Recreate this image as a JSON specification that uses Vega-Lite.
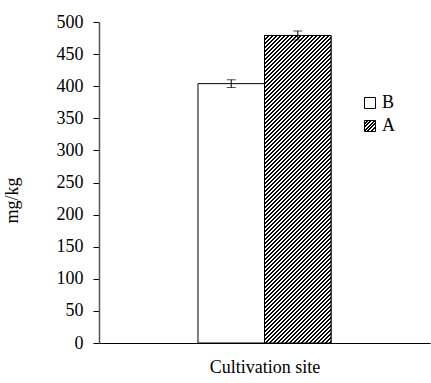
{
 "$schema": "https://vega.github.io/schema/vega-lite/v6.json",
 "width": 331, "height": 321,
 "autosize": "none",
 "padding": {"left": 99, "top": 22, "right": 1, "bottom": 40},
 "background": "white",
 "config": {"view": {"stroke": null}, "font": "Liberation Serif",
   "axis": {"labelFont": "Liberation Serif", "labelFontSize": 18, "labelColor": "black", "titleFont": "Liberation Serif", "titleFontSize": 18, "titleFontWeight": "normal", "titleColor": "black", "grid": false},
   "axisY": {"tickCount": 10, "labelFont": "Liberation Serif", "labelFontSize": 18, "labelColor": "black", "labelPadding": 10, "tickSize": 6, "tickColor": "black", "domainColor": "#555", "domainWidth": 1.5, "titlePadding": 35, "titleY": 178},
   "legend": {"labelFont": "Liberation Serif", "labelFontSize": 18, "labelColor": "black"}},
 "data": {"values": [
   {"site": "Cultivation site", "group": "B", "value": 404, "lo": 398, "hi": 410},
   {"site": "Cultivation site", "group": "A", "value": 479, "lo": 472, "hi": 486}
 ]},
 "encoding": {
   "x": {"field": "site", "type": "nominal",
     "scale": {"paddingInner": 0, "paddingOuter": 0.744},
     "axis": {"labels": false, "ticks": false, "domainColor": "black", "domainWidth": 1, "title": "Cultivation site", "titlePadding": 15}},
   "xOffset": {"field": "group", "type": "nominal", "scale": {"domain": ["B", "A"], "paddingInner": 0, "paddingOuter": 0}}
 },
 "layer": [
  {"transform": [{"filter": "datum.group === 'B'"}],
   "mark": {"type": "bar", "stroke": "black", "strokeWidth": 1},
   "encoding": {
     "y": {"field": "value", "type": "quantitative", "scale": {"domain": [0, 500]}, "axis": {"title": "mg/kg", "labelFont": "Liberation Serif", "labelFontSize": 18, "labelColor": "black"}},
     "fill": {"field": "group", "type": "nominal", "scale": {"domain": ["B"], "range": ["white"]},
       "legend": {"title": null, "orient": "none", "legendX": 262, "legendY": 72, "symbolType": "square", "symbolSize": 121, "symbolStrokeColor": "black", "symbolStrokeWidth": 1, "labelOffset": 3}}
   }},
  {"transform": [{"filter": "datum.group === 'A'"}],
   "mark": {"type": "bar", "strokeWidth": 1,
     "fill": {"gradient": "linear", "x1": 0, "y1": 0, "x2": 1, "y2": 1, "stops": [
       {"offset": 0, "color": "#000"}, {"offset": 0.05, "color": "#000"}, {"offset": 0.05, "color": "#fff"}, {"offset": 0.11, "color": "#fff"},
       {"offset": 0.11, "color": "#000"}, {"offset": 0.19, "color": "#000"}, {"offset": 0.19, "color": "#fff"}, {"offset": 0.27, "color": "#fff"},
       {"offset": 0.27, "color": "#000"}, {"offset": 0.35, "color": "#000"}, {"offset": 0.35, "color": "#fff"}, {"offset": 0.43, "color": "#fff"},
       {"offset": 0.43, "color": "#000"}, {"offset": 0.51, "color": "#000"}, {"offset": 0.51, "color": "#fff"}, {"offset": 0.59, "color": "#fff"},
       {"offset": 0.59, "color": "#000"}, {"offset": 0.67, "color": "#000"}, {"offset": 0.67, "color": "#fff"}, {"offset": 0.75, "color": "#fff"},
       {"offset": 0.75, "color": "#000"}, {"offset": 0.83, "color": "#000"}, {"offset": 0.83, "color": "#fff"}, {"offset": 0.91, "color": "#fff"},
       {"offset": 0.91, "color": "#000"}, {"offset": 1, "color": "#000"}]}},
   "encoding": {
     "y": {"field": "value", "type": "quantitative", "axis": {"title": "mg/kg", "labelFont": "Liberation Serif", "labelFontSize": 18, "labelColor": "black"}},
     "stroke": {"field": "group", "type": "nominal", "scale": {"domain": ["A"], "range": ["black"]},
       "legend": {"title": null, "orient": "none", "legendX": 262, "legendY": 95, "symbolType": "square", "symbolSize": 121, "symbolStrokeWidth": 1, "labelOffset": 3}}
   }},
  {"transform": [{"filter": "datum.group === 'A'"}],
   "mark": {"type": "bar", "stroke": "black", "strokeWidth": 1,
     "fill": {"gradient": "linear", "x1": 0, "y1": 0, "x2": 0.2697, "y2": 1.24, "stops": [
{"offset":0,"color":"#000"},{"offset":0.005,"color":"#000"},{"offset":0.005,"color":"#fff"},{"offset":0.01,"color":"#fff"},
{"offset":0.01,"color":"#000"},{"offset":0.015,"color":"#000"},{"offset":0.015,"color":"#fff"},{"offset":0.02,"color":"#fff"},
{"offset":0.02,"color":"#000"},{"offset":0.025,"color":"#000"},{"offset":0.025,"color":"#fff"},{"offset":0.03,"color":"#fff"},
{"offset":0.03,"color":"#000"},{"offset":0.035,"color":"#000"},{"offset":0.035,"color":"#fff"},{"offset":0.04,"color":"#fff"},
{"offset":0.04,"color":"#000"},{"offset":0.045,"color":"#000"},{"offset":0.045,"color":"#fff"},{"offset":0.05,"color":"#fff"},
{"offset":0.05,"color":"#000"},{"offset":0.055,"color":"#000"},{"offset":0.055,"color":"#fff"},{"offset":0.06,"color":"#fff"},
{"offset":0.06,"color":"#000"},{"offset":0.065,"color":"#000"},{"offset":0.065,"color":"#fff"},{"offset":0.07,"color":"#fff"},
{"offset":0.07,"color":"#000"},{"offset":0.075,"color":"#000"},{"offset":0.075,"color":"#fff"},{"offset":0.08,"color":"#fff"},
{"offset":0.08,"color":"#000"},{"offset":0.085,"color":"#000"},{"offset":0.085,"color":"#fff"},{"offset":0.09,"color":"#fff"},
{"offset":0.09,"color":"#000"},{"offset":0.095,"color":"#000"},{"offset":0.095,"color":"#fff"},{"offset":0.1,"color":"#fff"},
{"offset":0.1,"color":"#000"},{"offset":0.105,"color":"#000"},{"offset":0.105,"color":"#fff"},{"offset":0.11,"color":"#fff"},
{"offset":0.11,"color":"#000"},{"offset":0.115,"color":"#000"},{"offset":0.115,"color":"#fff"},{"offset":0.12,"color":"#fff"},
{"offset":0.12,"color":"#000"},{"offset":0.125,"color":"#000"},{"offset":0.125,"color":"#fff"},{"offset":0.13,"color":"#fff"},
{"offset":0.13,"color":"#000"},{"offset":0.135,"color":"#000"},{"offset":0.135,"color":"#fff"},{"offset":0.14,"color":"#fff"},
{"offset":0.14,"color":"#000"},{"offset":0.145,"color":"#000"},{"offset":0.145,"color":"#fff"},{"offset":0.15,"color":"#fff"},
{"offset":0.15,"color":"#000"},{"offset":0.155,"color":"#000"},{"offset":0.155,"color":"#fff"},{"offset":0.16,"color":"#fff"},
{"offset":0.16,"color":"#000"},{"offset":0.165,"color":"#000"},{"offset":0.165,"color":"#fff"},{"offset":0.17,"color":"#fff"},
{"offset":0.17,"color":"#000"},{"offset":0.175,"color":"#000"},{"offset":0.175,"color":"#fff"},{"offset":0.18,"color":"#fff"},
{"offset":0.18,"color":"#000"},{"offset":0.185,"color":"#000"},{"offset":0.185,"color":"#fff"},{"offset":0.19,"color":"#fff"},
{"offset":0.19,"color":"#000"},{"offset":0.195,"color":"#000"},{"offset":0.195,"color":"#fff"},{"offset":0.2,"color":"#fff"},
{"offset":0.2,"color":"#000"},{"offset":0.205,"color":"#000"},{"offset":0.205,"color":"#fff"},{"offset":0.21,"color":"#fff"},
{"offset":0.21,"color":"#000"},{"offset":0.215,"color":"#000"},{"offset":0.215,"color":"#fff"},{"offset":0.22,"color":"#fff"},
{"offset":0.22,"color":"#000"},{"offset":0.225,"color":"#000"},{"offset":0.225,"color":"#fff"},{"offset":0.23,"color":"#fff"},
{"offset":0.23,"color":"#000"},{"offset":0.235,"color":"#000"},{"offset":0.235,"color":"#fff"},{"offset":0.24,"color":"#fff"},
{"offset":0.24,"color":"#000"},{"offset":0.245,"color":"#000"},{"offset":0.245,"color":"#fff"},{"offset":0.25,"color":"#fff"},
{"offset":0.25,"color":"#000"},{"offset":0.255,"color":"#000"},{"offset":0.255,"color":"#fff"},{"offset":0.26,"color":"#fff"},
{"offset":0.26,"color":"#000"},{"offset":0.265,"color":"#000"},{"offset":0.265,"color":"#fff"},{"offset":0.27,"color":"#fff"},
{"offset":0.27,"color":"#000"},{"offset":0.275,"color":"#000"},{"offset":0.275,"color":"#fff"},{"offset":0.28,"color":"#fff"},
{"offset":0.28,"color":"#000"},{"offset":0.285,"color":"#000"},{"offset":0.285,"color":"#fff"},{"offset":0.29,"color":"#fff"},
{"offset":0.29,"color":"#000"},{"offset":0.295,"color":"#000"},{"offset":0.295,"color":"#fff"},{"offset":0.3,"color":"#fff"},
{"offset":0.3,"color":"#000"},{"offset":0.305,"color":"#000"},{"offset":0.305,"color":"#fff"},{"offset":0.31,"color":"#fff"},
{"offset":0.31,"color":"#000"},{"offset":0.315,"color":"#000"},{"offset":0.315,"color":"#fff"},{"offset":0.32,"color":"#fff"},
{"offset":0.32,"color":"#000"},{"offset":0.325,"color":"#000"},{"offset":0.325,"color":"#fff"},{"offset":0.33,"color":"#fff"},
{"offset":0.33,"color":"#000"},{"offset":0.335,"color":"#000"},{"offset":0.335,"color":"#fff"},{"offset":0.34,"color":"#fff"},
{"offset":0.34,"color":"#000"},{"offset":0.345,"color":"#000"},{"offset":0.345,"color":"#fff"},{"offset":0.35,"color":"#fff"},
{"offset":0.35,"color":"#000"},{"offset":0.355,"color":"#000"},{"offset":0.355,"color":"#fff"},{"offset":0.36,"color":"#fff"},
{"offset":0.36,"color":"#000"},{"offset":0.365,"color":"#000"},{"offset":0.365,"color":"#fff"},{"offset":0.37,"color":"#fff"},
{"offset":0.37,"color":"#000"},{"offset":0.375,"color":"#000"},{"offset":0.375,"color":"#fff"},{"offset":0.38,"color":"#fff"},
{"offset":0.38,"color":"#000"},{"offset":0.385,"color":"#000"},{"offset":0.385,"color":"#fff"},{"offset":0.39,"color":"#fff"},
{"offset":0.39,"color":"#000"},{"offset":0.395,"color":"#000"},{"offset":0.395,"color":"#fff"},{"offset":0.4,"color":"#fff"},
{"offset":0.4,"color":"#000"},{"offset":0.405,"color":"#000"},{"offset":0.405,"color":"#fff"},{"offset":0.41,"color":"#fff"},
{"offset":0.41,"color":"#000"},{"offset":0.415,"color":"#000"},{"offset":0.415,"color":"#fff"},{"offset":0.42,"color":"#fff"},
{"offset":0.42,"color":"#000"},{"offset":0.425,"color":"#000"},{"offset":0.425,"color":"#fff"},{"offset":0.43,"color":"#fff"},
{"offset":0.43,"color":"#000"},{"offset":0.435,"color":"#000"},{"offset":0.435,"color":"#fff"},{"offset":0.44,"color":"#fff"},
{"offset":0.44,"color":"#000"},{"offset":0.445,"color":"#000"},{"offset":0.445,"color":"#fff"},{"offset":0.45,"color":"#fff"},
{"offset":0.45,"color":"#000"},{"offset":0.455,"color":"#000"},{"offset":0.455,"color":"#fff"},{"offset":0.46,"color":"#fff"},
{"offset":0.46,"color":"#000"},{"offset":0.465,"color":"#000"},{"offset":0.465,"color":"#fff"},{"offset":0.47,"color":"#fff"},
{"offset":0.47,"color":"#000"},{"offset":0.475,"color":"#000"},{"offset":0.475,"color":"#fff"},{"offset":0.48,"color":"#fff"},
{"offset":0.48,"color":"#000"},{"offset":0.485,"color":"#000"},{"offset":0.485,"color":"#fff"},{"offset":0.49,"color":"#fff"},
{"offset":0.49,"color":"#000"},{"offset":0.495,"color":"#000"},{"offset":0.495,"color":"#fff"},{"offset":0.5,"color":"#fff"},
{"offset":0.5,"color":"#000"},{"offset":0.505,"color":"#000"},{"offset":0.505,"color":"#fff"},{"offset":0.51,"color":"#fff"},
{"offset":0.51,"color":"#000"},{"offset":0.515,"color":"#000"},{"offset":0.515,"color":"#fff"},{"offset":0.52,"color":"#fff"},
{"offset":0.52,"color":"#000"},{"offset":0.525,"color":"#000"},{"offset":0.525,"color":"#fff"},{"offset":0.53,"color":"#fff"},
{"offset":0.53,"color":"#000"},{"offset":0.535,"color":"#000"},{"offset":0.535,"color":"#fff"},{"offset":0.54,"color":"#fff"},
{"offset":0.54,"color":"#000"},{"offset":0.545,"color":"#000"},{"offset":0.545,"color":"#fff"},{"offset":0.55,"color":"#fff"},
{"offset":0.55,"color":"#000"},{"offset":0.555,"color":"#000"},{"offset":0.555,"color":"#fff"},{"offset":0.56,"color":"#fff"},
{"offset":0.56,"color":"#000"},{"offset":0.565,"color":"#000"},{"offset":0.565,"color":"#fff"},{"offset":0.57,"color":"#fff"},
{"offset":0.57,"color":"#000"},{"offset":0.575,"color":"#000"},{"offset":0.575,"color":"#fff"},{"offset":0.58,"color":"#fff"},
{"offset":0.58,"color":"#000"},{"offset":0.585,"color":"#000"},{"offset":0.585,"color":"#fff"},{"offset":0.59,"color":"#fff"},
{"offset":0.59,"color":"#000"},{"offset":0.595,"color":"#000"},{"offset":0.595,"color":"#fff"},{"offset":0.6,"color":"#fff"},
{"offset":0.6,"color":"#000"},{"offset":0.605,"color":"#000"},{"offset":0.605,"color":"#fff"},{"offset":0.61,"color":"#fff"},
{"offset":0.61,"color":"#000"},{"offset":0.615,"color":"#000"},{"offset":0.615,"color":"#fff"},{"offset":0.62,"color":"#fff"},
{"offset":0.62,"color":"#000"},{"offset":0.625,"color":"#000"},{"offset":0.625,"color":"#fff"},{"offset":0.63,"color":"#fff"},
{"offset":0.63,"color":"#000"},{"offset":0.635,"color":"#000"},{"offset":0.635,"color":"#fff"},{"offset":0.64,"color":"#fff"},
{"offset":0.64,"color":"#000"},{"offset":0.645,"color":"#000"},{"offset":0.645,"color":"#fff"},{"offset":0.65,"color":"#fff"},
{"offset":0.65,"color":"#000"},{"offset":0.655,"color":"#000"},{"offset":0.655,"color":"#fff"},{"offset":0.66,"color":"#fff"},
{"offset":0.66,"color":"#000"},{"offset":0.665,"color":"#000"},{"offset":0.665,"color":"#fff"},{"offset":0.67,"color":"#fff"},
{"offset":0.67,"color":"#000"},{"offset":0.675,"color":"#000"},{"offset":0.675,"color":"#fff"},{"offset":0.68,"color":"#fff"},
{"offset":0.68,"color":"#000"},{"offset":0.685,"color":"#000"},{"offset":0.685,"color":"#fff"},{"offset":0.69,"color":"#fff"},
{"offset":0.69,"color":"#000"},{"offset":0.695,"color":"#000"},{"offset":0.695,"color":"#fff"},{"offset":0.7,"color":"#fff"},
{"offset":0.7,"color":"#000"},{"offset":0.705,"color":"#000"},{"offset":0.705,"color":"#fff"},{"offset":0.71,"color":"#fff"},
{"offset":0.71,"color":"#000"},{"offset":0.715,"color":"#000"},{"offset":0.715,"color":"#fff"},{"offset":0.72,"color":"#fff"},
{"offset":0.72,"color":"#000"},{"offset":0.725,"color":"#000"},{"offset":0.725,"color":"#fff"},{"offset":0.73,"color":"#fff"},
{"offset":0.73,"color":"#000"},{"offset":0.735,"color":"#000"},{"offset":0.735,"color":"#fff"},{"offset":0.74,"color":"#fff"},
{"offset":0.74,"color":"#000"},{"offset":0.745,"color":"#000"},{"offset":0.745,"color":"#fff"},{"offset":0.75,"color":"#fff"},
{"offset":0.75,"color":"#000"},{"offset":0.755,"color":"#000"},{"offset":0.755,"color":"#fff"},{"offset":0.76,"color":"#fff"},
{"offset":0.76,"color":"#000"},{"offset":0.765,"color":"#000"},{"offset":0.765,"color":"#fff"},{"offset":0.77,"color":"#fff"},
{"offset":0.77,"color":"#000"},{"offset":0.775,"color":"#000"},{"offset":0.775,"color":"#fff"},{"offset":0.78,"color":"#fff"},
{"offset":0.78,"color":"#000"},{"offset":0.785,"color":"#000"},{"offset":0.785,"color":"#fff"},{"offset":0.79,"color":"#fff"},
{"offset":0.79,"color":"#000"},{"offset":0.795,"color":"#000"},{"offset":0.795,"color":"#fff"},{"offset":0.8,"color":"#fff"},
{"offset":0.8,"color":"#000"},{"offset":0.805,"color":"#000"},{"offset":0.805,"color":"#fff"},{"offset":0.81,"color":"#fff"},
{"offset":0.81,"color":"#000"},{"offset":0.815,"color":"#000"},{"offset":0.815,"color":"#fff"},{"offset":0.82,"color":"#fff"},
{"offset":0.82,"color":"#000"},{"offset":0.825,"color":"#000"},{"offset":0.825,"color":"#fff"},{"offset":0.83,"color":"#fff"},
{"offset":0.83,"color":"#000"},{"offset":0.835,"color":"#000"},{"offset":0.835,"color":"#fff"},{"offset":0.84,"color":"#fff"},
{"offset":0.84,"color":"#000"},{"offset":0.845,"color":"#000"},{"offset":0.845,"color":"#fff"},{"offset":0.85,"color":"#fff"},
{"offset":0.85,"color":"#000"},{"offset":0.855,"color":"#000"},{"offset":0.855,"color":"#fff"},{"offset":0.86,"color":"#fff"},
{"offset":0.86,"color":"#000"},{"offset":0.865,"color":"#000"},{"offset":0.865,"color":"#fff"},{"offset":0.87,"color":"#fff"},
{"offset":0.87,"color":"#000"},{"offset":0.875,"color":"#000"},{"offset":0.875,"color":"#fff"},{"offset":0.88,"color":"#fff"},
{"offset":0.88,"color":"#000"},{"offset":0.885,"color":"#000"},{"offset":0.885,"color":"#fff"},{"offset":0.89,"color":"#fff"},
{"offset":0.89,"color":"#000"},{"offset":0.895,"color":"#000"},{"offset":0.895,"color":"#fff"},{"offset":0.9,"color":"#fff"},
{"offset":0.9,"color":"#000"},{"offset":0.905,"color":"#000"},{"offset":0.905,"color":"#fff"},{"offset":0.91,"color":"#fff"},
{"offset":0.91,"color":"#000"},{"offset":0.915,"color":"#000"},{"offset":0.915,"color":"#fff"},{"offset":0.92,"color":"#fff"},
{"offset":0.92,"color":"#000"},{"offset":0.925,"color":"#000"},{"offset":0.925,"color":"#fff"},{"offset":0.93,"color":"#fff"},
{"offset":0.93,"color":"#000"},{"offset":0.935,"color":"#000"},{"offset":0.935,"color":"#fff"},{"offset":0.94,"color":"#fff"},
{"offset":0.94,"color":"#000"},{"offset":0.945,"color":"#000"},{"offset":0.945,"color":"#fff"},{"offset":0.95,"color":"#fff"}
     ]}},
   "encoding": {"y": {"field": "value", "type": "quantitative", "axis": {"title": "mg/kg", "labelFont": "Liberation Serif", "labelFontSize": 18, "labelColor": "black"}}}},
  {"mark": {"type": "rule", "color": "black", "strokeWidth": 1},
   "encoding": {"y": {"field": "lo", "type": "quantitative", "axis": {"title": "mg/kg", "labelFont": "Liberation Serif", "labelFontSize": 18, "labelColor": "black"}}, "y2": {"field": "hi"}}},
  {"mark": {"type": "tick", "color": "black", "size": 9, "thickness": 1},
   "encoding": {"y": {"field": "lo", "type": "quantitative", "axis": {"title": "mg/kg", "labelFont": "Liberation Serif", "labelFontSize": 18, "labelColor": "black"}}}},
  {"mark": {"type": "tick", "color": "black", "size": 9, "thickness": 1},
   "encoding": {"y": {"field": "hi", "type": "quantitative", "axis": {"title": "mg/kg", "labelFont": "Liberation Serif", "labelFontSize": 18, "labelColor": "black"}}}}
 ]
}
